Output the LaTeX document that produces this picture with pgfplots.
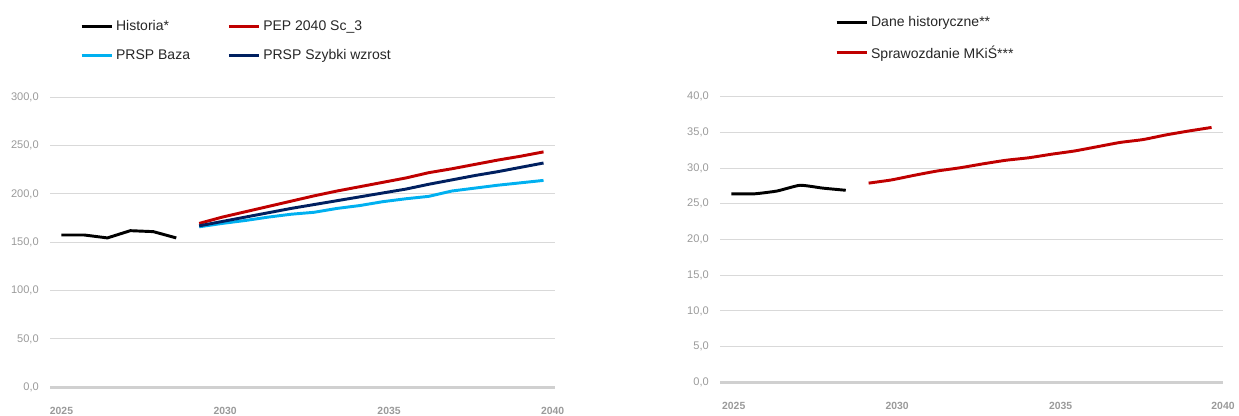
\documentclass[border=0pt]{standalone}
\usepackage{fontspec}
\setmainfont{Liberation Sans}
\usepackage{pgfplots}
\usepackage{pgfplotstable}
\pgfplotsset{compat=1.18}

\definecolor{pepred}{HTML}{C00000}
\definecolor{bazablue}{HTML}{00B0F0}
\definecolor{navy}{HTML}{002060}
\definecolor{gridgray}{HTML}{D9D9D9}
\definecolor{axisgray}{HTML}{D0D0D0}
\definecolor{ticktext}{HTML}{9A9A9A}
\definecolor{legtext}{HTML}{262626}

% left chart: history (positions 0-5) and scenarios (positions 6-21)
\pgfplotstableread{
i val
0 157.5
1 157.5
2 154.5
3 162.0
4 161.0
5 154.5
}\histL

\pgfplotstableread{
i  pep   baza  szybki
6  169.5 166.0 167.0
7  176.0 169.5 171.5
8  181.5 172.5 176.0
9  187.0 176.0 180.5
10 192.5 179.0 185.0
11 198.0 181.0 189.0
12 203.0 185.0 193.0
13 207.5 188.0 197.0
14 212.0 192.0 201.0
15 216.5 195.0 205.0
16 222.0 197.5 210.0
17 226.0 203.0 214.5
18 230.5 206.0 219.0
19 235.0 209.0 223.0
20 239.0 211.5 227.5
21 243.5 214.0 232.0
}\progL

% right chart
\pgfplotstableread{
i val
0 26.4
1 26.4
2 26.8
3 27.6
4 27.2
5 26.9
}\histR

\pgfplotstableread{
i  val
6  27.9
7  28.35
8  29.0
9  29.6
10 30.05
11 30.6
12 31.1
13 31.45
14 31.95
15 32.4
16 33.0
17 33.6
18 34.0
19 34.65
20 35.2
21 35.7
}\progR

\pgfplotsset{
  chartbase/.style={
    scale only axis,
    xmin=-0.5, xmax=21.5, ymin=0,
    axis lines*=left,
    x axis line style={draw=axisgray, line width=2.4pt, -},
    y axis line style={draw=none},
    major tick length=0pt,
    tick style={draw=none},
    ymajorgrids,
    grid style={draw=gridgray, line width=0.8pt},
    xticklabels={2025,2030,2035,2040},
    ticklabel style={text=ticktext},
    yticklabel style={font=\fontsize{8.3}{10}\selectfont, anchor=east, inner sep=0pt, xshift=-8.25pt},
    xticklabel style={font=\fontsize{7.8}{9}\selectfont\bfseries, anchor=center, inner sep=0pt, yshift=-17.5pt},
    /pgf/number format/fixed,
    /pgf/number format/fixed zerofill,
    /pgf/number format/precision=1,
    /pgf/number format/use comma,
    /pgf/number format/assume math mode=true,
    every axis plot/.append style={mark=none, line width=2.2pt, line join=round},
    legend cell align=left,
    legend image code/.code={\draw[##1, line width=2.2pt] (0pt,0pt) -- (22.5pt,0pt);},
    legend style={draw=none, fill=none, inner sep=0pt, row sep=10.75pt,
      font=\fontsize{10.5}{12}\selectfont, text=legtext,
      nodes={inner sep=1pt},
      /tikz/every odd column/.append style={column sep=1.2pt},
      /tikz/every even column/.append style={column sep=27pt}},
  }
}

\begin{document}
\begin{tikzpicture}
\useasboundingbox (0,0) rectangle (929.25pt,311.25pt);

\begin{axis}[chartbase,
  at={(37.5pt,20.8pt)}, anchor=south west,
  width=378.75pt, height=217.5pt,
  ymax=300, ytick distance=50,
  xtick={0,7.13,14.27,21.4},
  legend columns=2,
  legend style={at={(0.0594,1.194)}, anchor=west},
]
\addplot[black] table[x=i, y=val] {\histL};
\addlegendentry{Historia*}
\addplot[pepred] table[x=i, y=pep] {\progL};
\addlegendentry{PEP 2040 Sc\_3}
\addplot[bazablue] table[x=i, y=baza] {\progL};
\addlegendentry{PRSP Baza}
\addplot[navy] table[x=i, y=szybki] {\progL};
\addlegendentry{PRSP Szybki wzrost}
\end{axis}

\begin{axis}[chartbase,
  at={(540pt,24.5pt)}, anchor=south west,
  width=377.25pt, height=214.2pt,
  ymax=40, ytick distance=5,
  xtick={0.1,7.25,14.4,21.5},
  legend columns=1,
  legend style={at={(0.2286,1.205)}, anchor=west},
]
\addplot[black, smooth, tension=0.3] table[x=i, y=val] {\histR};
\addlegendentry{Dane historyczne**}
\addplot[pepred, smooth, tension=0.3] table[x=i, y=val] {\progR};
\addlegendentry{Sprawozdanie MKiŚ***}
\end{axis}
\end{tikzpicture}
\end{document}
